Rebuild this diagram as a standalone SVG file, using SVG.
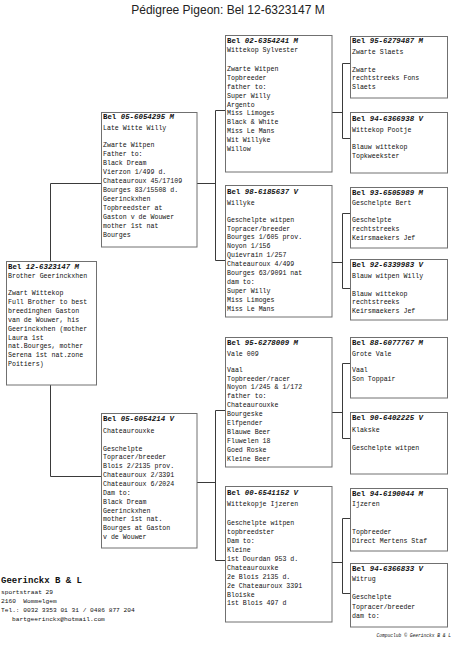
<svg xmlns="http://www.w3.org/2000/svg" width="452" height="650" viewBox="0 0 452 650">
<style>
.box{fill:#fff;stroke:#707070;stroke-width:1}
.ln{fill:none;stroke:#3a3a3a;stroke-width:1}
.hd{font-family:"Liberation Mono","Courier New",monospace;font-size:7.4px;font-weight:bold;fill:#111}
.hd .n{font-style:italic}
.tx{font-family:"Liberation Mono","Courier New",monospace;font-size:6.6px;fill:#111}
.title{font-family:"Liberation Sans",Arial,sans-serif;font-size:12px;fill:#222}
.ft{font-family:"Liberation Mono","Courier New",monospace;font-size:6.2px;fill:#111}
.ftb{font-family:"Liberation Mono","Courier New",monospace;font-size:9px;font-weight:bold;fill:#111}
.cp{font-family:"Liberation Mono","Courier New",monospace;font-size:4.6px;font-style:italic;fill:#111}
</style>
<rect width="452" height="650" fill="#fff"/>
<text class="title" x="228" y="14" text-anchor="middle">Pédigree Pigeon: Bel 12-6323147 M</text>

<g id="connectors">
<path class="ln" d="M50.5,261.5V183.5H101M50.5,385V476.5H101"/>
<path class="ln" d="M197,183.5H215.5M215.5,110.5V260.5M215.5,110.5H225M215.5,260.5H225"/>
<path class="ln" d="M197,482.5H215.5M215.5,410.5V560.5M215.5,410.5H225M215.5,560.5H225"/>
<path class="ln" d="M332,112.5H342.5M342.5,63.5V138.5M342.5,63.5H350M342.5,138.5H350"/>
<path class="ln" d="M332,262.5H342.5M342.5,213.5V288.5M342.5,213.5H350M342.5,288.5H350"/>
<path class="ln" d="M332,412.5H342.5M342.5,363.5V438.5M342.5,363.5H350M342.5,438.5H350"/>
<path class="ln" d="M332,562.5H342.5M342.5,518.5V593.5M342.5,518.5H350M342.5,593.5H350"/>
</g>

<g id="root">
<rect class="box" x="6.5" y="261.5" width="90" height="123.5"/>
<text class="hd" x="8" y="268.5">Bel <tspan class="n">12-6323147 M</tspan></text>
<text class="tx" x="8" y="277.5">Brother Geerinckxhen</text>
<text class="tx" x="8" y="295"><tspan x="8">Zwart Wittekop</tspan><tspan x="8" dy="8.9">Full Brother to best</tspan><tspan x="8" dy="8.9">breedinghen Gaston</tspan><tspan x="8" dy="8.9">van de Wouwer, his</tspan><tspan x="8" dy="8.9">Geerinckxhen (mother</tspan><tspan x="8" dy="8.9">Laura 1st</tspan><tspan x="8" dy="8.9">nat.Bourges, mother</tspan><tspan x="8" dy="8.9">Serena 1st nat.zone</tspan><tspan x="8" dy="8.9">Poitiers)</tspan></text>
</g>

<g id="sire">
<rect class="box" x="101.5" y="112.5" width="95.5" height="134.5"/>
<text class="hd" x="103" y="119">Bel <tspan class="n">05-6054295 M</tspan></text>
<text class="tx" x="103" y="130">Late Witte Willy</text>
<text class="tx" x="103" y="147.3"><tspan x="103">Zwarte Witpen</tspan><tspan x="103" dy="8.95">Father to:</tspan><tspan x="103" dy="8.95">Black Dream</tspan><tspan x="103" dy="8.95">Vierzon 1/499 d.</tspan><tspan x="103" dy="8.95">Chateauroux 45/17109</tspan><tspan x="103" dy="8.95">Bourges 83/15508 d.</tspan><tspan x="103" dy="8.95">Geerinckxhen</tspan><tspan x="103" dy="8.95">Topbreedster at</tspan><tspan x="103" dy="8.95">Gaston v de Wouwer</tspan><tspan x="103" dy="8.95">mother 1st nat</tspan><tspan x="103" dy="8.95">Bourges</tspan></text>
</g>

<g id="dam">
<rect class="box" x="101.5" y="413.5" width="95.5" height="134.5"/>
<text class="hd" x="103" y="421">Bel <tspan class="n">05-6054214 V</tspan></text>
<text class="tx" x="103" y="432.5">Chateaurouxke</text>
<text class="tx" x="103" y="450.6"><tspan x="103">Geschelpte</tspan><tspan x="103" dy="8.85">Topracer/breeder</tspan><tspan x="103" dy="8.85">Blois 2/2135 prov.</tspan><tspan x="103" dy="8.85">Chateauroux 2/3391</tspan><tspan x="103" dy="8.85">Chateauroux 6/2024</tspan><tspan x="103" dy="8.85">Dam to:</tspan><tspan x="103" dy="8.85">Black Dream</tspan><tspan x="103" dy="8.85">Geerinckxhen</tspan><tspan x="103" dy="8.85">mother 1st nat.</tspan><tspan x="103" dy="8.85">Bourges at Gaston</tspan><tspan x="103" dy="8.85">v de Wouwer</tspan></text>
</g>

<g id="ss">
<rect class="box" x="225.5" y="35.5" width="106.5" height="136.5"/>
<text class="hd" x="227" y="42.5">Bel <tspan class="n">02-6354241 M</tspan></text>
<text class="tx" x="227" y="51.5">Wittekop Sylvester</text>
<text class="tx" x="227" y="71.3"><tspan x="227">Zwarte Witpen</tspan><tspan x="227" dy="8.8">Topbreeder</tspan><tspan x="227" dy="8.8">father to:</tspan><tspan x="227" dy="8.8">Super Willy</tspan><tspan x="227" dy="8.8">Argento</tspan><tspan x="227" dy="8.8">Miss Limoges</tspan><tspan x="227" dy="8.8">Black &amp; White</tspan><tspan x="227" dy="8.8">Miss Le Mans</tspan><tspan x="227" dy="8.8">Wit Willyke</tspan><tspan x="227" dy="8.8">Willow</tspan></text>
</g>

<g id="sd">
<rect class="box" x="225.5" y="185.5" width="106.5" height="131.5"/>
<text class="hd" x="227" y="193.5">Bel <tspan class="n">98-6185637 V</tspan></text>
<text class="tx" x="227" y="205">Willyke</text>
<text class="tx" x="227" y="221.6"><tspan x="227">Geschelpte witpen</tspan><tspan x="227" dy="8.9">Topracer/breeder</tspan><tspan x="227" dy="8.9">Bourges 1/605 prov.</tspan><tspan x="227" dy="8.9">Noyon 1/156</tspan><tspan x="227" dy="8.9">Quievrain 1/257</tspan><tspan x="227" dy="8.9">Chateauroux 4/499</tspan><tspan x="227" dy="8.9">Bourges 63/9091 nat</tspan><tspan x="227" dy="8.9">dam to:</tspan><tspan x="227" dy="8.9">Super Willy</tspan><tspan x="227" dy="8.9">Miss Limoges</tspan><tspan x="227" dy="8.9">Miss Le Mans</tspan></text>
</g>

<g id="ds">
<rect class="box" x="225.5" y="337.5" width="106.5" height="129.5"/>
<text class="hd" x="227" y="344.5">Bel <tspan class="n">95-6278009 M</tspan></text>
<text class="tx" x="227" y="355.5">Vale 009</text>
<text class="tx" x="227" y="371.6"><tspan x="227">Vaal</tspan><tspan x="227" dy="8.9">Topbreeder/racer</tspan><tspan x="227" dy="8.9">Noyon 1/245 &amp; 1/172</tspan><tspan x="227" dy="8.9">father to:</tspan><tspan x="227" dy="8.9">Chateaurouxke</tspan><tspan x="227" dy="8.9">Bourgeske</tspan><tspan x="227" dy="8.9">Elfpender</tspan><tspan x="227" dy="8.9">Blauwe Beer</tspan><tspan x="227" dy="8.9">Fluwelen 18</tspan><tspan x="227" dy="8.9">Goed Roske</tspan><tspan x="227" dy="8.9">Kleine Beer</tspan></text>
</g>

<g id="dd">
<rect class="box" x="225.5" y="486.5" width="106.5" height="135.5"/>
<text class="hd" x="227" y="494.5">Bel <tspan class="n">00-6541152 V</tspan></text>
<text class="tx" x="227" y="506">Wittekopje Ijzeren</text>
<text class="tx" x="227" y="525.3"><tspan x="227">Geschelpte witpen</tspan><tspan x="227" dy="8.9">topbreedster</tspan><tspan x="227" dy="8.9">Dam to:</tspan><tspan x="227" dy="8.9">Kleine</tspan><tspan x="227" dy="8.9">1st Dourdan 953 d.</tspan><tspan x="227" dy="8.9">Chateaurouxke</tspan><tspan x="227" dy="8.9">2e Blois 2135 d.</tspan><tspan x="227" dy="8.9">2e Chateauroux 3391</tspan><tspan x="227" dy="8.9">Bloiske</tspan><tspan x="227" dy="8.9">1st Blois 497 d</tspan></text>
</g>

<g id="sss">
<rect class="box" x="350.5" y="36.5" width="97" height="61.5"/>
<text class="hd" x="352" y="43">Bel <tspan class="n">95-6279487 M</tspan></text>
<text class="tx" x="352" y="53.5">Zwarte Slaets</text>
<text class="tx" x="352" y="71.5"><tspan x="352">Zwarte</tspan><tspan x="352" dy="8.9">rechtstreeks Fons</tspan><tspan x="352" dy="8.9">Slaets</tspan></text>
</g>
<g id="ssd">
<rect class="box" x="350.5" y="112.5" width="97" height="60.5"/>
<text class="hd" x="352" y="120.5">Bel <tspan class="n">94-6366938 V</tspan></text>
<text class="tx" x="352" y="131.5">Wittekop Pootje</text>
<text class="tx" x="352" y="149"><tspan x="352">Blauw wittekop</tspan><tspan x="352" dy="8.9">Topkweekster</tspan></text>
</g>
<g id="sds">
<rect class="box" x="350.5" y="187.5" width="97" height="60.5"/>
<text class="hd" x="352" y="194.5">Bel <tspan class="n">93-6505989 M</tspan></text>
<text class="tx" x="352" y="205">Geschelpte Bert</text>
<text class="tx" x="352" y="222.3"><tspan x="352">Geschelpte</tspan><tspan x="352" dy="8.9">rechtstreeks</tspan><tspan x="352" dy="8.9">Keirsmaekers Jef</tspan></text>
</g>
<g id="sdd">
<rect class="box" x="350.5" y="259.5" width="97" height="60.5"/>
<text class="hd" x="352" y="267">Bel <tspan class="n">92-6339983 V</tspan></text>
<text class="tx" x="352" y="278">Blauw witpen Willy</text>
<text class="tx" x="352" y="295.5"><tspan x="352">Blauw wittekop</tspan><tspan x="352" dy="8.9">rechtstreeks</tspan><tspan x="352" dy="8.9">Keirsmaekers Jef</tspan></text>
</g>
<g id="dss">
<rect class="box" x="350.5" y="337.5" width="97" height="60.5"/>
<text class="hd" x="352" y="344.5">Bel <tspan class="n">88-6077767 M</tspan></text>
<text class="tx" x="352" y="355.5">Grote Vale</text>
<text class="tx" x="352" y="372.3"><tspan x="352">Vaal</tspan><tspan x="352" dy="8.9">Son Toppair</tspan></text>
</g>
<g id="dsd">
<rect class="box" x="350.5" y="412.5" width="97" height="61.5"/>
<text class="hd" x="352" y="420">Bel <tspan class="n">90-6402225 V</tspan></text>
<text class="tx" x="352" y="431.5">Klakske</text>
<text class="tx" x="352" y="449.6">Geschelpte witpen</text>
</g>
<g id="dds">
<rect class="box" x="350.5" y="488.5" width="97" height="62.5"/>
<text class="hd" x="352" y="496.3">Bel <tspan class="n">94-6190044 M</tspan></text>
<text class="tx" x="352" y="506.3">Ijzeren</text>
<text class="tx" x="352" y="534"><tspan x="352">Topbreeder</tspan><tspan x="352" dy="9.2">Direct Mertens Staf</tspan></text>
</g>
<g id="ddd">
<rect class="box" x="350.5" y="563.5" width="97" height="63.5"/>
<text class="hd" x="352" y="571.3">Bel <tspan class="n">94-6366833 V</tspan></text>
<text class="tx" x="352" y="581.3">Witrug</text>
<text class="tx" x="352" y="599.3"><tspan x="352">Geschelpte</tspan><tspan x="352" dy="9.3">Topracer/breeder</tspan><tspan x="352" dy="9.3">dam to:</tspan></text>
</g>

<g id="footer">
<text class="ftb" x="1" y="583">Geerinckx B &amp; L</text>
<text class="ft" x="1" y="594">sportstraat 29</text>
<text class="ft" x="1" y="603" xml:space="preserve">2160  Wommelgem</text>
<text class="ft" x="1" y="611.7">Tel.: 0032 3353 01 31 / 0486 877 204</text>
<text class="ft" x="12" y="620.7">bartgeerinckx@hotmail.com</text>
<text class="cp" x="451" y="637" text-anchor="end">Compuclub © Geerinckx B &amp; L</text>
</g>
</svg>
